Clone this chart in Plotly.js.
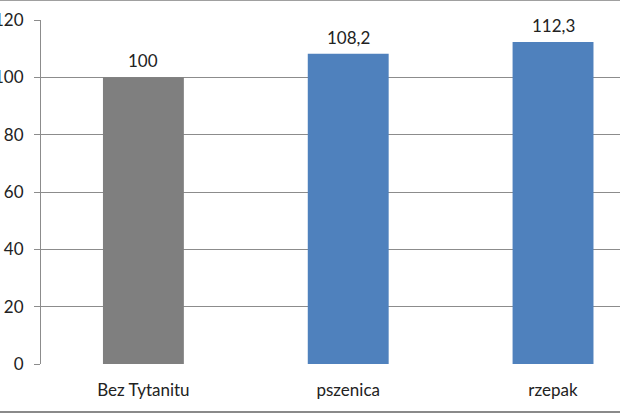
<!DOCTYPE html>
<html>
<head>
<meta charset="utf-8">
<script src="https://cdn.plot.ly/plotly-3.0.1.min.js"></script>
<style>
html,body{margin:0;padding:0;background:#fff;}
#wrap{position:relative;width:620px;height:413px;overflow:hidden;}
#chart{width:620px;height:413px;}
.bt{position:absolute;left:0;top:0;width:620px;height:1px;background:#a0a0a0;}
.bb{position:absolute;left:0;top:411px;width:620px;height:2px;background:#8a8a8a;}
</style>
</head>
<body>
<div id="wrap"><div id="chart"></div><div class="bt"></div><div class="bb"></div></div>
<script>
const categories = ['Bez Tytanitu', 'pszenica', 'rzepak'];
const values = [100, 108.2, 112.3];
const yTicks = [0, 20, 40, 60, 80, 100, 120];

const barColors = ['#7f7f7f', '#4f81bd', '#4f81bd'];
const fmt = v => String(v).replace('.', ',');
const FONT = 'Lato, "Open Sans", sans-serif';
const FS = 17;

const trace = {
  type: 'bar',
  x: categories,
  y: values,
  marker: {color: barColors, line: {width: 0}},
  hoverinfo: 'skip'
};

const annotations = categories.map((c, i) => ({
  x: c, y: values[i], xref: 'x', yref: 'y',
  text: fmt(values[i]), showarrow: false,
  yanchor: 'bottom', yshift: 4,
  font: {family: FONT, size: FS, color: '#222'}
}));

const layout = {
  width: 620, height: 413,
  margin: {l: 40.5, r: 0, t: 20, b: 49},
  paper_bgcolor: '#fff', plot_bgcolor: '#fff',
  showlegend: false,
  bargap: 0.605,
  font: {family: FONT, size: FS, color: '#222'},
  xaxis: {
    type: 'category',
    range: [-0.5, 2.327],
    showgrid: false, zeroline: false,
    showline: false, ticks: '',
    tickfont: {family: FONT, size: FS, color: '#222'},
    ticklabelstandoff: 14,
    fixedrange: true
  },
  yaxis: {
    range: [0, 120],
    tickvals: yTicks,
    ticktext: yTicks.map(String),
    showgrid: true, gridcolor: '#8c8c8c', gridwidth: 1,
    zeroline: false,
    showline: true, linecolor: '#8c8c8c', linewidth: 1,
    ticks: 'outside', ticklen: 6, tickcolor: '#8c8c8c',
    tickfont: {family: FONT, size: FS, color: '#222'},
    ticklabelstandoff: 7,
    fixedrange: true
  },
  annotations: annotations
};

Plotly.newPlot('chart', [trace], layout, {displayModeBar: false, staticPlot: true});
</script>
</body>
</html>
